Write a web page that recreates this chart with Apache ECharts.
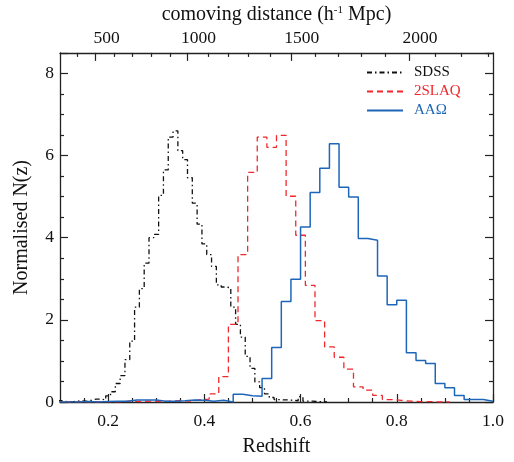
<!DOCTYPE html>
<html>
<head>
<meta charset="utf-8">
<script src="https://cdn.jsdelivr.net/npm/echarts@6/dist/echarts.min.js"></script>
<style>html,body{margin:0;padding:0;background:#fff}#c{width:514px;height:462px}</style>
</head>
<body>
<div id="c"></div>
<script>
// ---- data (bin centres and normalised N(z)) ----
const sdssZ = [0.10,0.11,0.12,0.13,0.14,0.15,0.16,0.17,0.18,0.19,0.20,0.21,0.22,0.23,0.24,0.25,0.26,0.27,0.28,0.29,0.30,0.31,0.32,0.33,0.34,0.35,0.36,0.37,0.38,0.39,0.40,0.41,0.42,0.43,0.44,0.45,0.46,0.47,0.48,0.49,0.50,0.51,0.52,0.53,0.54,0.55,0.56,0.57,0.58,0.59,0.60,0.61,0.62,0.63,0.64,0.65];
const sdssN = [0.03,0.01,0.00,0.02,0.03,0.02,0.04,0.07,0.07,0.05,0.15,0.25,0.45,0.64,1.03,1.48,2.31,2.76,3.38,4.00,4.08,5.03,5.65,6.45,6.60,6.12,5.90,5.46,4.84,4.33,3.85,3.59,3.30,2.85,2.80,2.78,2.31,1.89,1.58,1.11,0.82,0.49,0.35,0.20,0.11,0.06,0.05,0.05,0.04,0.03,0.13,0.02,0.02,0.01,0.01,0.00];
const sdssWidth = 0.01;

const slaqZ = [0.10,0.12,0.14,0.16,0.18,0.20,0.22,0.24,0.26,0.28,0.30,0.32,0.34,0.36,0.38,0.40,0.42,0.44,0.46,0.48,0.50,0.52,0.54,0.56,0.58,0.60,0.62,0.64,0.66,0.68,0.70,0.72,0.74,0.76,0.78,0.80,0.82,0.84,0.86,0.88,0.90];
const slaqN = [0.01,0.00,0.01,0.00,0.01,0.00,0.01,0.02,0.01,0.02,0.01,0.02,0.03,0.02,0.05,0.07,0.20,0.62,1.89,3.59,5.59,6.45,6.20,6.49,5.01,4.06,2.84,1.98,1.34,1.09,0.80,0.37,0.29,0.16,0.06,0.04,0.02,0.01,0.01,0.00,0.00];
const slaqWidth = 0.02;

const aaoZ = [0.11,0.13,0.15,0.17,0.19,0.21,0.23,0.25,0.27,0.29,0.31,0.33,0.35,0.37,0.39,0.41,0.43,0.45,0.47,0.49,0.51,0.53,0.55,0.57,0.59,0.61,0.63,0.65,0.67,0.69,0.71,0.73,0.75,0.77,0.79,0.81,0.83,0.85,0.87,0.89,0.91,0.93,0.95,0.97,0.99];
const aaoN = [0.00,0.00,0.01,0.00,0.01,0.02,0.02,0.05,0.05,0.05,0.02,0.02,0.03,0.05,0.04,0.02,0.04,0.00,0.19,0.15,0.14,0.57,1.33,2.45,2.99,4.26,5.10,5.69,6.29,5.23,4.99,3.98,3.94,3.07,2.37,2.48,1.20,1.01,0.94,0.45,0.35,0.16,0.06,0.06,0.02];
const aaoWidth = 0.02;

const seriesNames = ['SDSS','2SLAQ','AA\u03A9'];

// x-axis tick labels
const bottomTickLabels = [0.2,0.4,0.6,0.8,1.0];
const bottomMinorTicks = [0.15,0.25,0.3,0.35,0.45,0.5,0.55,0.65,0.7,0.75,0.85,0.9,0.95];
// top axis: comoving distance labels and where they fall in redshift
const topTickLabels = ['500','1000','1500','2000'];
const topTickZ = [0.1738,0.3651,0.5798,0.8254];
const topMinorZ = [0.1364,0.2125,0.2499,0.2902,0.3283,0.4079,0.4495,0.4911,0.5362,0.6297,0.6782,0.7268,0.7753,0.8793,0.9347,0.9900];
const yTickLabels = [0,2,4,6,8];

// ---- build step-histogram outlines from bin centres ----
function outline(z, n, w) {
  const pts = z.map((c, i) => [+(c - w / 2).toFixed(4), n[i]]);
  pts.push([+(z[z.length - 1] + w / 2).toFixed(4), n[n.length - 1]]);
  return pts;
}

const FONT = 'Liberation Serif';
const AX = '#222';
const RED = '#f0282d';
const BLUE = '#1e66b8';
const TICKFS = 17.5;
const TITLEFS = 20;

const chart = echarts.init(document.getElementById('c'), null, {renderer: 'canvas'});
const baseX = {type: 'value', min: 0.1, max: 1.0, gridIndex: 0};
chart.setOption({
  animation: false,
  backgroundColor: '#fff',
  textStyle: {fontFamily: FONT},
  grid: {left: 60, right: 21, top: 47, bottom: 51, containLabel: false},
  legend: {
    orient: 'vertical', left: 366, top: 65, padding: 0, itemWidth: 36, itemHeight: 16, itemGap: 4,
    itemStyle: {opacity: 0},
    textStyle: {fontFamily: FONT, fontSize: 15, padding: [0, 0, 0, 6]},
    data: [
      {name: seriesNames[0], textStyle: {color: '#111'}},
      {name: seriesNames[1], textStyle: {color: RED}},
      {name: seriesNames[2], textStyle: {color: BLUE}}
    ]
  },
  xAxis: [
    Object.assign({}, baseX, {
      position: 'bottom', name: 'Redshift', nameLocation: 'middle', nameGap: 35,
      nameTextStyle: {fontFamily: FONT, fontSize: TITLEFS, color: '#111'},
      axisLine: {show: true, onZero: false, lineStyle: {color: AX, width: 1.3}},
      axisTick: {show: true, inside: true, length: 8, customValues: bottomTickLabels, lineStyle: {color: AX, width: 1.2}},
      axisLabel: {show: true, customValues: bottomTickLabels, margin: 10, fontFamily: FONT, fontSize: TICKFS, color: '#111',
        formatter: v => v.toFixed(1)},
      splitLine: {show: false}
    }),
    Object.assign({}, baseX, {
      position: 'bottom',
      axisLine: {show: false, onZero: false},
      axisTick: {show: true, inside: true, length: 4, customValues: bottomMinorTicks, lineStyle: {color: AX, width: 1.2}},
      axisLabel: {show: false}, splitLine: {show: false}
    }),
    Object.assign({}, baseX, {
      position: 'top', name: '{a|comoving distance (h}{s|-1}{a| Mpc)}', nameLocation: 'middle', nameGap: 18,
      nameTextStyle: {fontFamily: FONT, fontSize: TITLEFS, color: '#111',
        rich: {a: {fontFamily: FONT, fontSize: TITLEFS, color: '#111'}, s: {fontFamily: FONT, fontSize: 11, color: '#111', verticalAlign: 'top', padding: [0, 0, 7, 0]}}},
      axisLine: {show: true, onZero: false, lineStyle: {color: AX, width: 1.3}},
      axisTick: {show: true, inside: true, length: 8, customValues: topTickZ, lineStyle: {color: AX, width: 1.2}},
      axisLabel: {show: true, customValues: topTickZ, margin: 5, fontFamily: FONT, fontSize: TICKFS, color: '#111',
        padding: [0, 0, 0, 22],
        formatter: v => {
          let best = 0;
          topTickZ.forEach((t, i) => { if (Math.abs(t - v) < Math.abs(topTickZ[best] - v)) best = i; });
          return topTickLabels[best];
        }},
      splitLine: {show: false}
    }),
    Object.assign({}, baseX, {
      position: 'top',
      axisLine: {show: false, onZero: false},
      axisTick: {show: true, inside: true, length: 4, customValues: topMinorZ, lineStyle: {color: AX, width: 1.2}},
      axisLabel: {show: false}, splitLine: {show: false}
    })
  ],
  yAxis: [
    {
      type: 'value', min: 0, max: 8.5, interval: 2, position: 'left',
      name: 'Normalised N(z)', nameLocation: 'middle', nameGap: 28,
      nameTextStyle: {fontFamily: FONT, fontSize: TITLEFS, color: '#111'},
      axisLine: {show: true, onZero: false, lineStyle: {color: AX, width: 1.3}},
      axisTick: {show: true, inside: true, length: 8, lineStyle: {color: AX, width: 1.2}},
      minorTick: {show: true, splitNumber: 4, length: 4, lineStyle: {color: AX, width: 1.2}},
      axisLabel: {show: true, margin: 6, fontFamily: FONT, fontSize: TICKFS, color: '#111',
        formatter: v => (yTickLabels.indexOf(v) >= 0 ? String(v) : '')},
      splitLine: {show: false}, minorSplitLine: {show: false}
    },
    {
      type: 'value', min: 0, max: 8.5, interval: 2, position: 'right',
      axisLine: {show: true, onZero: false, lineStyle: {color: AX, width: 1.3}},
      axisTick: {show: true, inside: true, length: 8, lineStyle: {color: AX, width: 1.2}},
      minorTick: {show: true, splitNumber: 4, length: 4, lineStyle: {color: AX, width: 1.2}},
      axisLabel: {show: false}, splitLine: {show: false}
    }
  ],
  series: [
    {
      name: seriesNames[0], type: 'line', step: 'end', symbol: 'none', xAxisIndex: 0, yAxisIndex: 0,
      data: outline(sdssZ, sdssN, sdssWidth), clip: true,
      lineStyle: {color: '#111', width: 1.3, type: [5, 3, 1.5, 3]}, itemStyle: {color: '#111'}
    },
    {
      name: seriesNames[1], type: 'line', step: 'end', symbol: 'none', xAxisIndex: 0, yAxisIndex: 0,
      data: outline(slaqZ, slaqN, slaqWidth), clip: true,
      lineStyle: {color: RED, width: 1.3, type: [6, 4]}, itemStyle: {color: RED}
    },
    {
      name: seriesNames[2], type: 'line', step: 'end', symbol: 'none', xAxisIndex: 0, yAxisIndex: 0,
      data: outline(aaoZ, aaoN, aaoWidth), clip: true,
      lineStyle: {color: BLUE, width: 1.5, type: 'solid'}, itemStyle: {color: BLUE}
    }
  ]
});
</script>
</body>
</html>
